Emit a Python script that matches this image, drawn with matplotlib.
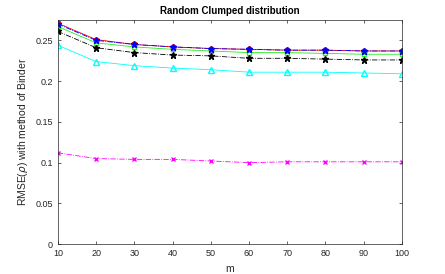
import matplotlib.pyplot as plt

plt.rcParams['font.family'] = ['Liberation Sans', 'DejaVu Sans']

m = [10, 20, 30, 40, 50, 60, 70, 80, 90, 100]
red_vals = [0.271, 0.251, 0.245, 0.242, 0.240, 0.239, 0.238, 0.238, 0.237, 0.237]
blue_vals = [0.270, 0.250, 0.245, 0.242, 0.240, 0.239, 0.238, 0.238, 0.237, 0.237]
green_vals = [0.267, 0.247, 0.242, 0.239, 0.237, 0.235, 0.235, 0.234, 0.233, 0.233]
black_vals = [0.261, 0.241, 0.235, 0.232, 0.231, 0.228, 0.228, 0.227, 0.226, 0.226]
cyan_vals = [0.244, 0.224, 0.219, 0.216, 0.214, 0.211, 0.211, 0.211, 0.210, 0.209]
magenta_vals = [0.112, 0.105, 0.104, 0.104, 0.102, 0.100, 0.101, 0.101, 0.101, 0.101]

fig = plt.figure(figsize=(4.45, 2.74), dpi=100)
ax = fig.add_axes([0.130, 0.109, 0.773, 0.818])

ms = 3.5
lw = 0.6
ax.plot(m, red_vals, color='red', marker='o', ms=ms, mfc='none', lw=lw)
ax.plot(m, green_vals, color='#22ee22', marker='s', ms=ms, mfc='none', lw=lw)
ax.plot(m, black_vals, color='black', marker='*', ms=ms + 1, ls='-.', lw=lw)
ax.plot(m, cyan_vals, color='cyan', marker='^', ms=ms + 0.5, mfc='none', lw=lw)
ax.plot(m, magenta_vals, color='magenta', marker='x', ms=ms, ls='-.', lw=lw)
ax.plot(m, blue_vals, color='blue', marker='*', ms=ms + 1.5, ls='-.', lw=lw)

ax.set_xlim(10, 100)
ax.set_ylim(0, 0.275)
ax.set_xticks(m)
ax.set_yticks([0, 0.05, 0.1, 0.15, 0.2, 0.25])
ax.set_yticklabels(['0', '0.05', '0.1', '0.15', '0.2', '0.25'])
ax.tick_params(direction='in', labelsize=6.5, length=2.5, width=0.5,
               colors='#262626', top=True, right=True)
for s in ax.spines.values():
    s.set_linewidth(0.5)
    s.set_color('#262626')

ax.set_xlabel('m', fontsize=7.5, color='#262626')
ax.set_ylabel(r'RMSE($\rho$) with method of Binder', fontsize=7.5, color='#262626')
ax.set_title('Random Clumped distribution', fontsize=7, fontweight='bold', pad=4)

fig.savefig('out.png', dpi=100)
